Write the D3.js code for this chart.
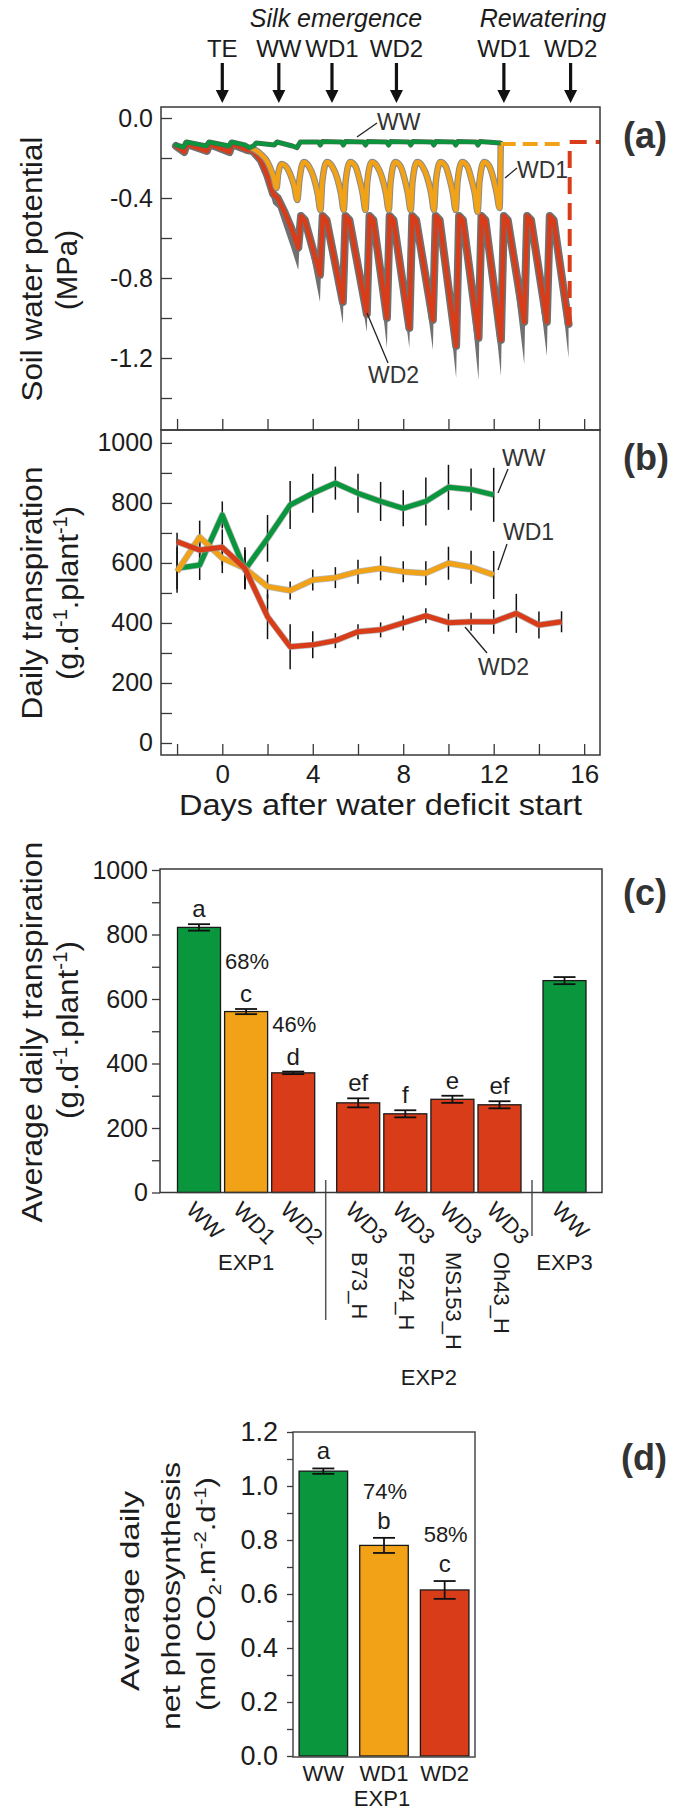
<!DOCTYPE html>
<html>
<head>
<meta charset="utf-8">
<title>Soil water potential, transpiration and photosynthesis under water deficit</title>
<script src="https://cdn.jsdelivr.net/npm/d3@7/dist/d3.min.js"></script>
<style>
  html, body { margin: 0; padding: 0; background: #ffffff; }
  svg { display: block; }
  text { font-family: "Liberation Sans", Arial, Helvetica, sans-serif; fill: #1c1c1c; }
</style>
</head>
<body>
<script>
// ================= data =================

// (a) soil water potential (MPa) vs days after water deficit start
// well watered: [day, psi]
const psiWW = [
  [-2.05,-0.135],[-1.7,-0.145],[-1.58,-0.12],[-0.7,-0.14],[-0.58,-0.12],[0.3,-0.14],[0.42,-0.12],
  [1.0,-0.135],[1.2,-0.148],[1.38,-0.14],[1.5,-0.125],[2.3,-0.135],[2.42,-0.12],[3.1,-0.14],
  [3.3,-0.148],[3.45,-0.12],
  [4.25,-0.12],[4.33,-0.135],[4.42,-0.118],
  [5.27,-0.12],[5.35,-0.135],[5.44,-0.118],
  [6.25,-0.12],[6.33,-0.135],[6.42,-0.118],
  [7.27,-0.12],[7.35,-0.135],[7.44,-0.118],
  [8.25,-0.12],[8.33,-0.135],[8.42,-0.118],
  [9.27,-0.12],[9.35,-0.135],[9.44,-0.118],
  [10.24,-0.12],[10.32,-0.135],[10.41,-0.118],
  [11.22,-0.12],[11.3,-0.135],[11.39,-0.118],
  [12.3,-0.125]
];
// moderate deficit WD1: [day, psi]
const psiWD1 = [
  [1.3,-0.15],[1.7,-0.18],[2.0,-0.22],[2.25,-0.29],[2.4,-0.35],
  [2.47,-0.28],[2.62,-0.23],[2.8,-0.24],[3.0,-0.28],[3.18,-0.34],[3.32,-0.41],
  [3.4,-0.32],[3.6,-0.22],[3.82,-0.24],[4.05,-0.30],[4.22,-0.38],[4.34,-0.46],
  [4.42,-0.32],[4.62,-0.22],[4.85,-0.24],[5.08,-0.30],[5.25,-0.38],[5.37,-0.46],
  [5.45,-0.32],[5.65,-0.22],[5.88,-0.24],[6.05,-0.30],[6.21,-0.38],[6.33,-0.46],
  [6.41,-0.32],[6.61,-0.22],[6.84,-0.24],[7.07,-0.30],[7.24,-0.38],[7.36,-0.46],
  [7.44,-0.32],[7.64,-0.22],[7.87,-0.24],[8.05,-0.30],[8.21,-0.38],[8.33,-0.46],
  [8.41,-0.32],[8.61,-0.22],[8.84,-0.24],[9.07,-0.30],[9.24,-0.38],[9.36,-0.46],
  [9.44,-0.32],[9.64,-0.22],[9.87,-0.24],[10.04,-0.30],[10.2,-0.38],[10.32,-0.46],
  [10.4,-0.32],[10.6,-0.22],[10.83,-0.24],[11.0,-0.30],[11.17,-0.38],[11.29,-0.47],
  [11.37,-0.32],[11.57,-0.22],[11.8,-0.24],[11.98,-0.30],[12.14,-0.38],[12.26,-0.45],
  [12.31,-0.13]
];
const psiWD1Rewatered = [[12.31,-0.13],[15.22,-0.13]];
// severe deficit WD2: [day, mean psi, lower bound]
const psiWD2 = [
  [-2.05,-0.14,-0.15],[-1.68,-0.17,-0.18],[-1.58,-0.13,-0.14],[-0.68,-0.165,-0.175],
  [-0.58,-0.13,-0.14],[0.32,-0.17,-0.18],[0.42,-0.13,-0.14],[1.1,-0.16,-0.17],
  [1.35,-0.165,-0.18],[1.7,-0.21,-0.24],[2.0,-0.29,-0.33],[2.25,-0.38,-0.43],
  [2.45,-0.40,-0.45],[2.75,-0.47,-0.55],[3.05,-0.55,-0.65],[3.36,-0.65,-0.76],
  [3.48,-0.49,-0.50],[3.65,-0.51,-0.53],[4.32,-0.785,-0.92],
  [4.44,-0.49,-0.50],[4.61,-0.51,-0.53],[5.33,-0.92,-1.03],
  [5.45,-0.49,-0.50],[5.62,-0.51,-0.53],[6.39,-0.98,-1.07],
  [6.51,-0.49,-0.50],[6.68,-0.51,-0.53],[7.28,-1.00,-1.15],
  [7.4,-0.49,-0.50],[7.57,-0.51,-0.53],[8.27,-1.05,-1.15],
  [8.4,-0.49,-0.50],[8.57,-0.51,-0.53],[9.31,-1.01,-1.16],
  [9.44,-0.49,-0.50],[9.61,-0.51,-0.53],[10.34,-1.14,-1.30],
  [10.47,-0.49,-0.50],[10.64,-0.51,-0.53],[11.33,-1.10,-1.31],
  [11.46,-0.49,-0.50],[11.63,-0.51,-0.53],[12.32,-1.11,-1.29],
  [12.45,-0.49,-0.50],[12.62,-0.51,-0.53],[13.35,-1.02,-1.23],
  [13.48,-0.49,-0.50],[13.65,-0.51,-0.53],[14.35,-1.02,-1.19],
  [14.48,-0.49,-0.50],[14.65,-0.51,-0.53],[15.31,-1.03,-1.20]
];
const psiWD2Rewatered = [[15.36,-1.03],[15.36,-0.12],[16.7,-0.12]];
const psiTicks = [0,-0.2,-0.4,-0.6,-0.8,-1.0,-1.2,-1.4];

// events marked above panel (a)
const eventLabels = ["TE","WW","WD1","WD2","WD1","WD2"];
const eventDays = [0, 2.5, 4.85, 7.7, 12.45, 15.4];

// (b) daily transpiration (g d-1 plant-1)
const trDays = [-2,-1,0,1,2,3,4,5,6,7,8,9,10,11,12,13,14,15];
const trWW  = [582,593,760,577,682,793,832,866,832,805,782,805,852,845,827];
const trWD1 = [571,686,616,582,521,508,543,551,571,582,571,566,599,586,560];
const trWD2 = [671,643,652,582,421,321,327,341,371,377,400,424,401,404,404,432,393,404];
const trErrWW  = [70,50,45,65,78,80,65,55,65,65,60,80,75,70,90];
const trErrWD1 = [70,55,50,60,40,30,35,35,40,40,35,40,55,55,80];
const trErrWD2 = [30,50,60,70,75,75,45,25,25,25,25,25,30,30,40,65,45,35];
const dayTicks = [-2,0,2,4,6,8,10,12,14,16];

// (c) average daily transpiration
const avgTreat = ["WW","WD1","WD2","WD3","WD3","WD3","WD3","WW"];
const avgGenotype = ["","","","B73_H","F924_H","MS153_H","Oh43_H",""];
const avgExp = ["EXP1","EXP1","EXP1","EXP2","EXP2","EXP2","EXP2","EXP3"];
const avgTransp = [822,561,371,278,244,289,272,657];
const avgTranspErr = [10,8,4,14,11,11,11,11];
const avgLetters = ["a","c","d","ef","f","e","ef",""];
const avgPct = ["","68%","46%","","","","",""];

// (d) average daily net photosynthesis
const photoTreat = ["WW","WD1","WD2"];
const photoVals = [1.055,0.78,0.615];
const photoErr = [0.01,0.028,0.033];
const photoLetters = ["a","b","c"];
const photoPct = ["","74%","58%"];

// ================= drawing =================
const INK = "#1c1c1c", FRAME = "#383838", HALO = "#707070";
const COLORS = { WW: "#0a963d", WD1: "#f2a217", WD2: "#d93c18" };
const colorOf = t => t === "WW" ? COLORS.WW : (t === "WD1" ? COLORS.WD1 : COLORS.WD2);

const svg = d3.select("body").append("svg").attr("width", 674).attr("height", 1812);

function frame(l, t, r, b, col) {
  svg.append("rect").attr("x", l).attr("y", t).attr("width", r - l).attr("height", b - t)
    .attr("fill", "none").attr("stroke", col || FRAME).attr("stroke-width", 1.5);
}
function styleAxis(g, size) {
  g.select(".domain").remove();
  g.selectAll(".tick line").attr("stroke", FRAME).attr("stroke-width", 1.3);
  g.selectAll(".tick text").attr("font-size", size);
}
// text with super/subscript parts
function rich(sel, parts, size) {
  let shift = 0;
  parts.forEach(([s, kind]) => {
    const target = kind === "sup" ? -size * 0.38 : (kind === "sub" ? size * 0.22 : 0);
    const t = sel.append("tspan").attr("dy", target - shift).text(s);
    if (kind) t.attr("font-size", size * 0.65);
    shift = target;
  });
}
function vTitle(parts, x, yc, size, len) {
  const t = svg.append("text")
    .attr("transform", `translate(${x},${yc}) rotate(-90)`)
    .attr("x", -len / 2).attr("font-size", size)
    .attr("textLength", len).attr("lengthAdjust", "spacingAndGlyphs");
  rich(t, parts, size);
}
function label(x, y, s, size, opts) {
  const o = opts || {};
  return svg.append("text").attr("x", x).attr("y", y).attr("font-size", size)
    .attr("text-anchor", o.anchor || "middle")
    .attr("font-style", o.italic ? "italic" : null)
    .attr("font-weight", o.bold ? "bold" : null)
    .style("fill", o.fill || INK)
    .text(s);
}
function leader(x1, y1, x2, y2) {
  svg.append("line").attr("x1", x1).attr("y1", y1).attr("x2", x2).attr("y2", y2)
    .attr("stroke", "#222").attr("stroke-width", 1.3);
}

// ---------- shared time axis for (a) and (b) ----------
const xDay = d3.scaleLinear().domain([-2.71, 16.7]).range([161, 600]);
const yPsi = d3.scaleLinear().domain([0.055, -1.56]).range([107, 430]);
const yTr = d3.scaleLinear().domain([-40, 1043]).range([755, 430]);

// ---------- (a) ----------
const lineA = d3.line().x(d => xDay(d[0])).y(d => yPsi(d[1]));
const bandA = d3.area().x(d => xDay(d[0])).y0(d => yPsi(d[2])).y1(d => yPsi(d[1]));
const gA = svg.append("g").attr("stroke-linejoin", "round").attr("stroke-linecap", "round");

gA.append("path").attr("d", bandA(psiWD2)).attr("fill", HALO);
gA.append("path").attr("d", lineA(psiWD2)).attr("fill", "none").attr("stroke", HALO).attr("stroke-width", 8);
gA.append("path").attr("d", lineA(psiWD2)).attr("fill", "none").attr("stroke", COLORS.WD2).attr("stroke-width", 4.5);

const lineA1 = d3.line().curve(d3.curveMonotoneX).x(d => xDay(d[0])).y(d => yPsi(d[1]));
gA.append("path").attr("d", lineA1(psiWD1)).attr("fill", "none").attr("stroke", "#8a8a8a").attr("stroke-width", 6.5);
gA.append("path").attr("d", lineA1(psiWD1)).attr("fill", "none").attr("stroke", COLORS.WD1).attr("stroke-width", 4.5);

gA.append("path").attr("d", lineA(psiWW)).attr("fill", "none").attr("stroke", "#4a6a50").attr("stroke-width", 5);
gA.append("path").attr("d", lineA(psiWW)).attr("fill", "none").attr("stroke", COLORS.WW).attr("stroke-width", 3.6);

// rewatering (dashed)
svg.append("path").attr("d", d3.line().x(d => xDay(d[0])).y(d => yPsi(d[1]))(psiWD1Rewatered))
  .attr("fill", "none").attr("stroke", COLORS.WD1).attr("stroke-width", 4).attr("stroke-dasharray", "15,7");
svg.append("path").attr("d", d3.line().x(d => xDay(d[0])).y(d => yPsi(d[1]))(psiWD2Rewatered))
  .attr("fill", "none").attr("stroke", COLORS.WD2).attr("stroke-width", 4).attr("stroke-dasharray", "17,9");

frame(161, 107, 600, 430);
const axA = svg.append("g").attr("transform", "translate(161,0)")
  .call(d3.axisLeft(yPsi).tickValues(psiTicks).tickSizeInner(-11).tickSizeOuter(0).tickPadding(8)
    .tickFormat((d, i) => i % 2 === 0 ? d.toFixed(1) : ""));
styleAxis(axA, 25);
const axAx = svg.append("g").attr("transform", "translate(0,430)")
  .call(d3.axisBottom(xDay).tickValues(dayTicks).tickSizeInner(-11).tickSizeOuter(0).tickFormat(""));
styleAxis(axAx, 25);

// line labels in (a)
leader(357, 137, 377, 123); label(377, 130, "WW", 23, {anchor: "start", fill: "#333"});
leader(505, 178, 517, 168); label(517, 178, "WD1", 23, {anchor: "start", fill: "#333"});
leader(367, 313, 388, 363); label(368, 383, "WD2", 23, {anchor: "start", fill: "#333"});

// event arrows above (a)
label(336, 27, "Silk emergence", 25, {italic: true});
label(543, 27, "Rewatering", 25, {italic: true});
eventDays.forEach((d, i) => {
  const x = xDay(d);
  label(x, 57, eventLabels[i], 24);
  svg.append("path")
    .attr("d", `M${x - 1.6},63 L${x + 1.6},63 L${x + 1.6},90 L${x + 6.5},90 L${x},103 L${x - 6.5},90 L${x - 1.6},90 Z`)
    .attr("fill", "#111");
});

vTitle([["Soil water potential"]], 42, 269, 30, 265);
vTitle([["(MPa)"]], 77, 270, 30, 80);
label(623, 148, "(a)", 36, {anchor: "start", bold: true, fill: "#333"});

// ---------- (b) ----------
const seriesB = [
  {vals: trWW, err: trErrWW, col: COLORS.WW},
  {vals: trWD1, err: trErrWD1, col: COLORS.WD1},
  {vals: trWD2, err: trErrWD2, col: COLORS.WD2}
];
const gErr = svg.append("g").attr("stroke", "#111").attr("stroke-width", 1.5);
seriesB.forEach(s => {
  s.vals.forEach((v, i) => {
    const x = xDay(trDays[i]);
    gErr.append("line").attr("x1", x).attr("x2", x)
      .attr("y1", yTr(v - s.err[i])).attr("y2", yTr(v + s.err[i]));
  });
});
const lineB = d3.line().x((d, i) => xDay(trDays[i])).y(d => yTr(d));
seriesB.forEach(s => {
  svg.append("path").attr("d", lineB(s.vals)).attr("fill", "none")
    .attr("stroke", "#9a9a9a").attr("stroke-width", 6.5).attr("stroke-linejoin", "round").attr("opacity", 0.7);
  svg.append("path").attr("d", lineB(s.vals)).attr("fill", "none")
    .attr("stroke", s.col).attr("stroke-width", 5).attr("stroke-linejoin", "round");
});

frame(161, 430, 600, 755);
const axB = svg.append("g").attr("transform", "translate(161,0)")
  .call(d3.axisLeft(yTr).tickValues(d3.range(0, 1001, 100)).tickSizeInner(-11).tickSizeOuter(0).tickPadding(8)
    .tickFormat(d => d % 200 === 0 ? d : ""));
styleAxis(axB, 25);
const axBx = svg.append("g").attr("transform", "translate(0,755)")
  .call(d3.axisBottom(xDay).tickValues(dayTicks).tickSizeInner(-11).tickSizeOuter(0).tickPadding(10)
    .tickFormat(d => d % 4 === 0 ? d : ""));
styleAxis(axBx, 26);
label(380.5, 815, "Days after water deficit start", 29).attr("textLength", 403).attr("lengthAdjust", "spacingAndGlyphs");

leader(498, 493, 508, 469); label(502, 466, "WW", 23, {anchor: "start", fill: "#333"});
leader(498, 570, 507, 544); label(503, 540, "WD1", 23, {anchor: "start", fill: "#333"});
leader(465, 627, 487, 653); label(478, 675, "WD2", 23, {anchor: "start", fill: "#333"});

vTitle([["Daily transpiration"]], 42, 593, 30, 253);
vTitle([["(g.d"],["-1","sup"],[".plant"],["-1","sup"],[")"]], 78, 593, 30, 174);
label(623, 470, "(b)", 36, {anchor: "start", bold: true, fill: "#333"});

// ---------- (c) ----------
const expOrder = ["EXP1","EXP2","EXP3"];
const groupGap = 0.38;
const slotC = i => i + groupGap * expOrder.indexOf(avgExp[i]);
const xC = d3.scaleLinear().domain([0, slotC(avgTransp.length - 1)]).range([199, 564.5]);
const yC = d3.scaleLinear().domain([0, 1000]).range([1192.5, 870]);
const barWC = 43;

avgTransp.forEach((v, i) => {
  const cx = xC(slotC(i));
  svg.append("rect").attr("x", cx - barWC / 2).attr("y", yC(v))
    .attr("width", barWC).attr("height", yC(0) - yC(v))
    .attr("fill", colorOf(avgTreat[i])).attr("stroke", "#1a1a1a").attr("stroke-width", 1.3);
  const e = avgTranspErr[i];
  const g = svg.append("g").attr("stroke", "#111").attr("stroke-width", 1.8);
  g.append("line").attr("x1", cx).attr("x2", cx).attr("y1", yC(v - e)).attr("y2", yC(v + e));
  g.append("line").attr("x1", cx - 11).attr("x2", cx + 11).attr("y1", yC(v - e)).attr("y2", yC(v - e));
  g.append("line").attr("x1", cx - 11).attr("x2", cx + 11).attr("y1", yC(v + e)).attr("y2", yC(v + e));
  const lb = yC(v + e) - 7;
  if (avgLetters[i]) label(cx, lb, avgLetters[i], 24);
  if (avgPct[i]) label(cx + 1, lb - 33, avgPct[i], 22);
  // rotated treatment label
  svg.append("text").attr("transform", `translate(${cx - 14},1211) rotate(45)`)
    .attr("font-size", 22).text(avgTreat[i]);
  if (avgGenotype[i]) {
    svg.append("text").attr("transform", `translate(${cx - 6},1252) rotate(90)`)
      .attr("font-size", 22).text(avgGenotype[i]);
  }
});
// experiment group labels and separators
expOrder.forEach((ex, k) => {
  const idx = avgExp.map((e, i) => e === ex ? i : -1).filter(i => i >= 0);
  const cx = d3.mean(idx, i => xC(slotC(i)));
  label(cx, ex === "EXP2" ? 1385 : 1270, ex, 22);
  if (k > 0) {
    const prev = idx[0] - 1;
    const sx = (xC(slotC(prev)) + xC(slotC(idx[0]))) / 2;
    svg.append("line").attr("x1", sx).attr("x2", sx).attr("y1", 1180).attr("y2", ex === "EXP2" ? 1320 : 1236)
      .attr("stroke", "#555").attr("stroke-width", 1.5);
  }
});

frame(160, 869, 602, 1192.5);
const axC = svg.append("g").attr("transform", "translate(160,0)")
  .call(d3.axisLeft(yC).tickValues(d3.range(0, 1001, 100)).tickSizeInner(8).tickSizeOuter(0).tickPadding(4)
    .tickFormat(d => d % 200 === 0 ? d : ""));
styleAxis(axC, 25);

vTitle([["Average daily transpiration"]], 42, 1032, 30, 381);
vTitle([["(g.d"],["-1","sup"],[".plant"],["-1","sup"],[")"]], 78, 1030, 30, 178);
label(623, 905, "(c)", 36, {anchor: "start", bold: true, fill: "#333"});

// ---------- (d) ----------
const xD = d3.scaleBand().domain(photoTreat).range([293, 475]).paddingInner(0.2).paddingOuter(0.1);
const yD = d3.scaleLinear().domain([0, 1.2]).range([1756, 1432]);
photoVals.forEach((v, i) => {
  const t = photoTreat[i];
  const x0 = xD(t), cx = x0 + xD.bandwidth() / 2;
  svg.append("rect").attr("x", x0).attr("y", yD(v)).attr("width", xD.bandwidth()).attr("height", yD(0) - yD(v))
    .attr("fill", colorOf(t)).attr("stroke", "#1a1a1a").attr("stroke-width", 1.3);
  const e = photoErr[i];
  const g = svg.append("g").attr("stroke", "#111").attr("stroke-width", 1.8);
  g.append("line").attr("x1", cx).attr("x2", cx).attr("y1", yD(v - e)).attr("y2", yD(v + e));
  g.append("line").attr("x1", cx - 11).attr("x2", cx + 11).attr("y1", yD(v - e)).attr("y2", yD(v - e));
  g.append("line").attr("x1", cx - 11).attr("x2", cx + 11).attr("y1", yD(v + e)).attr("y2", yD(v + e));
  const lb = yD(v + e) - 9;
  label(cx, lb, photoLetters[i], 24);
  if (photoPct[i]) label(cx + 1, lb - 30, photoPct[i], 22);
  label(cx, 1781, t, 22);
});
label(382, 1806, "EXP1", 22);

frame(293, 1432, 475, 1757, "#4a4a4a");
const axD = svg.append("g").attr("transform", "translate(293,0)")
  .call(d3.axisLeft(yD).tickValues(d3.range(0, 13).map(k => k / 10)).tickSizeInner(6).tickSizeOuter(0).tickPadding(9)
    .tickFormat((d, i) => i % 2 === 0 ? d.toFixed(1) : ""));
styleAxis(axD, 27);

vTitle([["Average daily"]], 139, 1591, 25, 200);
vTitle([["net photosynthesis"]], 180, 1596, 25, 268);
vTitle([["(mol CO"],["2","sub"],[".m"],["-2","sup"],[".d"],["-1","sup"],[")"]], 215, 1594, 25, 234);
label(621, 1470, "(d)", 36, {anchor: "start", bold: true, fill: "#333"});
</script>
</body>
</html>
